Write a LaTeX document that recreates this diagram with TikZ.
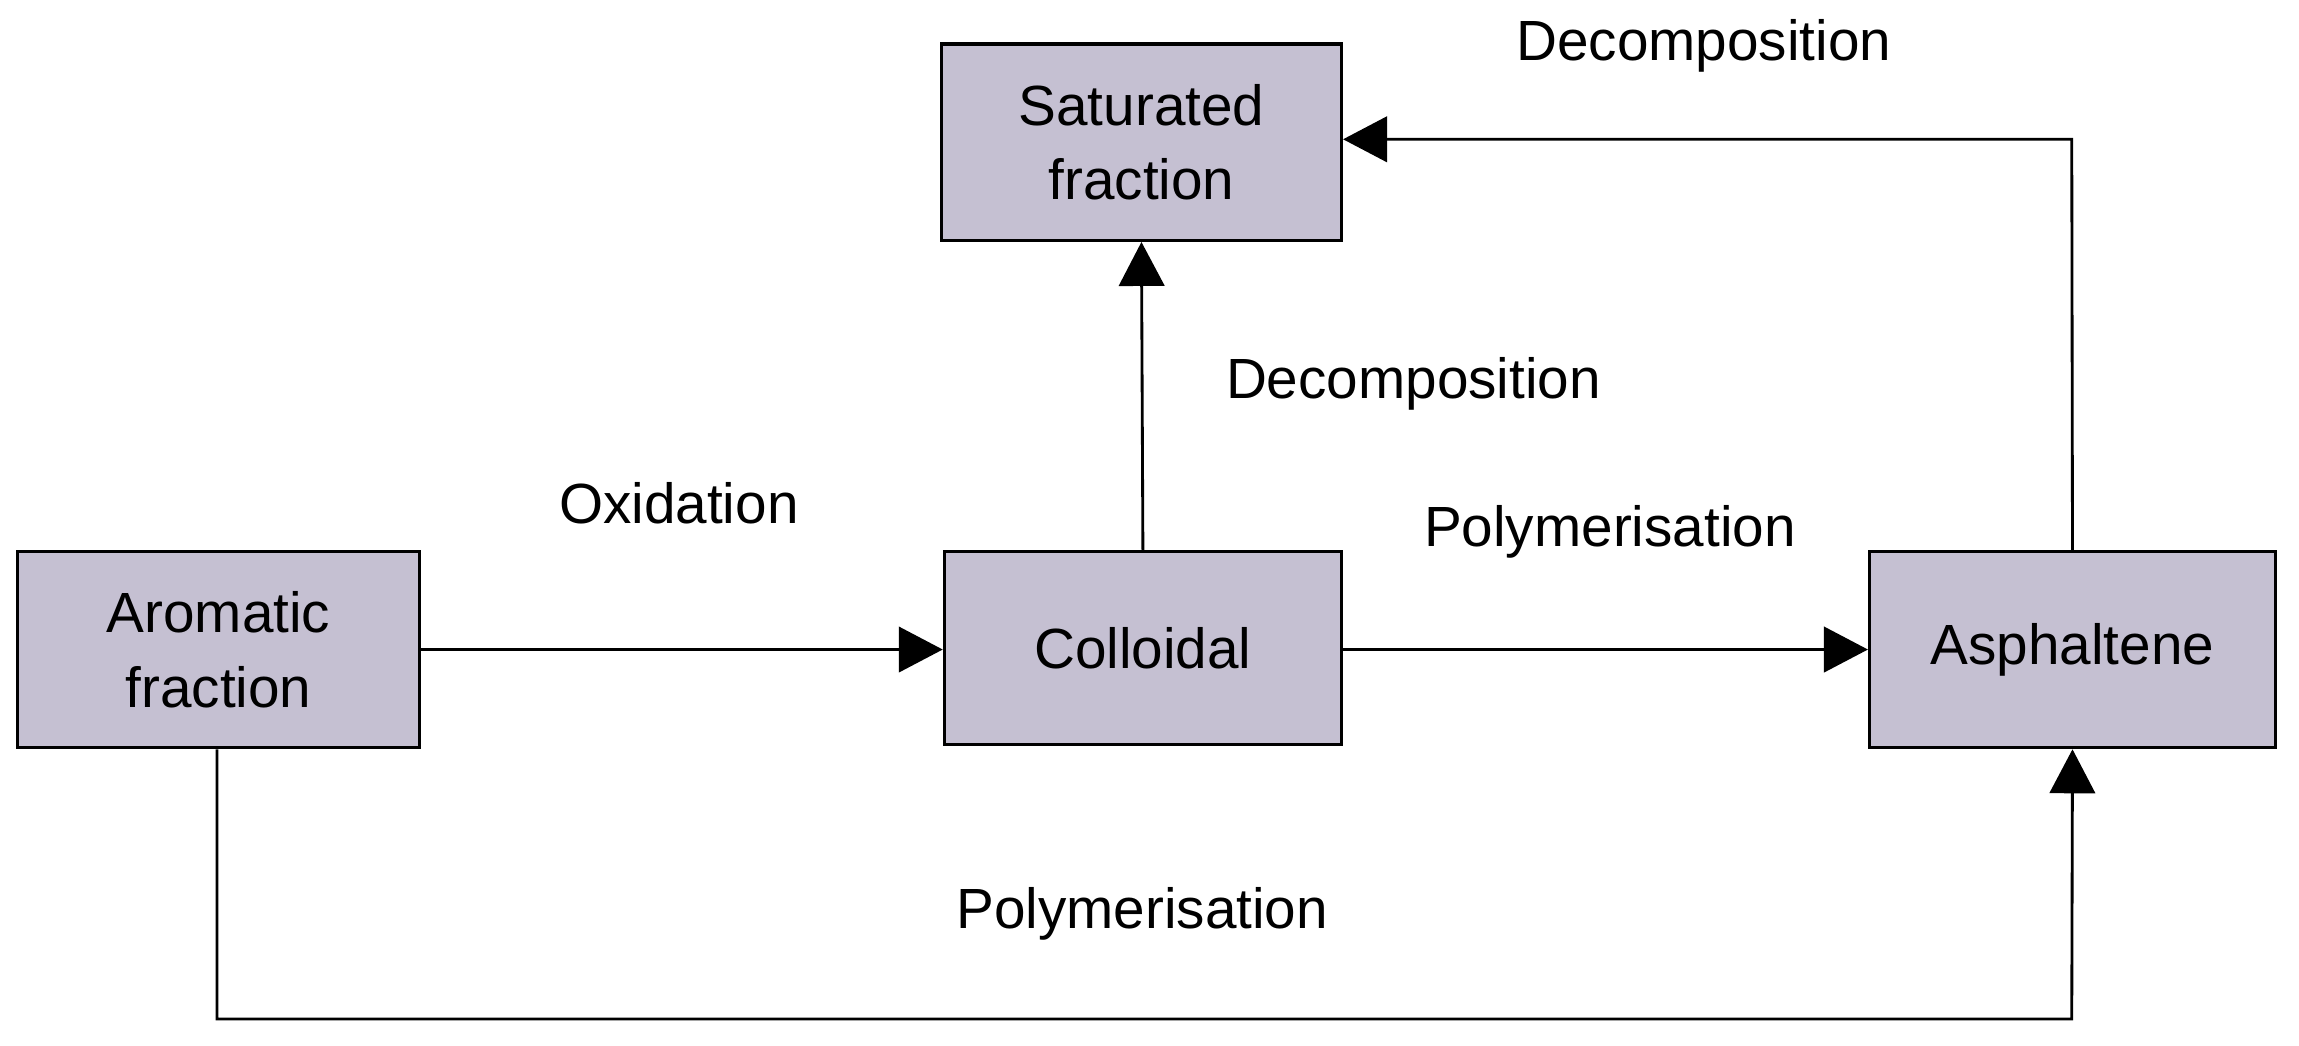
\documentclass[tikz,border=0pt]{standalone}
\usepackage{fontspec}
\setmainfont{Liberation Sans}
\usetikzlibrary{arrows.meta}
\definecolor{boxfill}{HTML}{C5C0D2}
\begin{document}
\begin{tikzpicture}[x=0.02cm,y=-0.02cm,
  box/.style={draw=black,line width=1.2pt,fill=boxfill,inner sep=0pt,align=center,
    font=\fontsize{22}{29}\selectfont},
  lbl/.style={font=\fontsize{22}{27}\selectfont},
  conn/.style={line width=1.1pt,-{Triangle[length=0.6cm,width=0.62cm]}},
  plain/.style={line width=1.1pt}]
\useasboundingbox (0,0) rectangle (1568,713);
\node[box,minimum width=5.46cm,minimum height=2.68cm] (sat) at (778.5,97) {Saturated\\fraction};
\node[box,minimum width=5.48cm,minimum height=2.68cm] (aro) at (149,443) {Aromatic\\fraction};
\node[box,minimum width=5.42cm,minimum height=2.64cm] (col) at (779.5,442) {Colloidal};
\node[box,minimum width=5.54cm,minimum height=2.68cm] (asp) at (1413.5,443) {Asphaltene};
\coordinate (c1) at (1413,95);
\coordinate (c2) at (148,695);
\coordinate (c3) at (1413,695);
\draw[conn] (aro.east |- 0,443) -- (col.west |- 0,443);
\draw[conn] (col.east |- 0,443) -- (asp.west |- 0,443);
\draw[conn] (col.north) -- (sat.south);
\draw[conn] (asp.north) -- (c1) -- (sat.east |- c1);
\draw[conn] (aro.south -| c2) -- (c2) -- (c3) -- (asp.south);
\node[lbl] (l1) at (463,343) {Oxidation};
\node[lbl] (l2) at (964,262) {Decomposition};
\node[lbl] (l3) at (1098,363) {Polymerisation};
\node[lbl] (l4) at (1162,31) {Decomposition};
\node[lbl] (l5) at (779,623) {Polymerisation};
\end{tikzpicture}
\end{document}
